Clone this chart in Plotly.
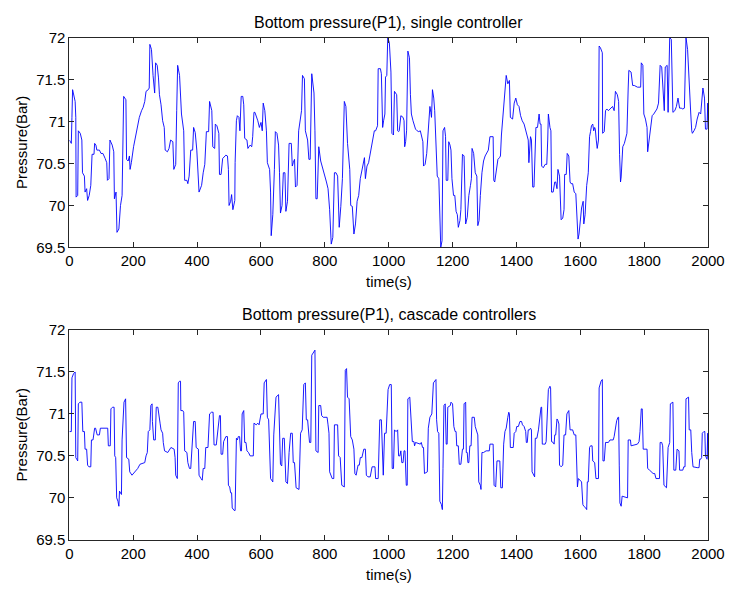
import plotly.graph_objects as go

# ---- data: top panel (single controller) ----
t_single = [0, 6, 8, 10, 18, 20, 21, 26, 28, 34, 39, 41, 47, 49, 54, 57, 62, 67, 71, 77, 79, 83, 86, 94, 99, 105, 112, 117, 119, 124, 127, 134, 139, 141, 146, 149, 155, 160, 165, 168, 170, 177, 179, 184, 188, 190, 194, 201, 209, 219, 226, 231, 236, 240, 247, 250, 252, 257, 262, 267, 270, 275, 279, 282, 287, 292, 297, 300, 307, 312, 317, 324, 327, 333, 336, 339, 345, 351, 358, 361, 368, 371, 375, 380, 386, 389, 394, 399, 406, 414, 419, 424, 429, 436, 439, 446, 449, 455, 457, 462, 468, 470, 475, 480, 490, 495,
            498, 500, 505, 508, 512, 518, 519, 523, 526, 531, 534, 538, 543, 546, 549, 556, 559, 566, 571, 574, 578, 581, 590, 595, 600, 604, 607, 612, 617, 620, 627, 630, 632, 637, 642, 645, 650, 655, 658, 661, 666, 670, 675, 678, 683, 688, 695, 698, 701, 705, 708, 713, 718, 724, 727, 730, 736, 739, 746, 750, 754, 759, 766, 769, 772, 776, 779, 781, 787, 795, 805, 810, 815, 820, 825, 830, 835, 840, 845, 850, 855, 861, 866, 871, 878, 881, 886, 891, 896, 901, 906, 911, 918, 924, 927, 932, 937, 942, 947, 950, 955, 959, 965, 967, 974, 977, 981, 984, 988,
            990, 994, 997, 1002, 1007, 1010, 1015, 1018, 1025, 1028, 1031, 1033, 1038, 1045, 1048, 1050, 1053, 1056, 1060, 1065, 1068, 1071, 1076, 1084, 1089, 1094, 1099, 1104, 1107, 1109, 1114, 1119, 1124, 1129, 1132, 1134, 1137, 1141, 1144, 1147, 1152, 1157, 1160, 1163, 1167, 1170, 1175, 1178, 1180, 1185, 1188, 1192, 1195, 1198, 1203, 1207, 1211, 1215, 1218, 1223, 1226, 1231, 1236, 1241, 1246, 1251, 1256, 1259, 1261, 1266, 1271, 1276, 1279, 1283, 1287, 1292, 1297, 1302, 1312, 1317, 1327, 1329, 1332, 1337, 1342, 1347, 1350, 1353, 1358, 1363, 1368, 1373, 1378, 1381, 1388, 1393, 1398, 1403, 1408, 1413, 1418, 1424, 1429, 1434, 1437, 1439, 1444, 1447, 1451, 1455, 1457, 1461, 1466, 1471, 1474, 1477, 1479, 1484,
            1490, 1495, 1498, 1500, 1505, 1508, 1510, 1515, 1520, 1523, 1527, 1530, 1535, 1538, 1540, 1545, 1549, 1551, 1556, 1559, 1564, 1568, 1571, 1576, 1581, 1586, 1589, 1593, 1596, 1599, 1604, 1609, 1611, 1615, 1620, 1625, 1629, 1632, 1635, 1639, 1642, 1645, 1647, 1650, 1653, 1657, 1659, 1663, 1669, 1670, 1675, 1679, 1683, 1688, 1693, 1701, 1706, 1710, 1716, 1720, 1723, 1726, 1728, 1733, 1738, 1743, 1746, 1750, 1752, 1759, 1764, 1769, 1779, 1789, 1791, 1796, 1799, 1804, 1809, 1811, 1814, 1819, 1825, 1830, 1835, 1840, 1845, 1850, 1855, 1860, 1863, 1866, 1872, 1875, 1880, 1885, 1890, 1896, 1901, 1906, 1911, 1916, 1921, 1926, 1931, 1936, 1939, 1943, 1946, 1949, 1951, 1956, 1961, 1966, 1972, 1977, 1980, 1984, 1989, 1992, 1997, 1999, 2000]
p_single = [70.78, 70.74, 71.05, 71.38, 71.24, 71.05, 70.10, 70.12, 70.89, 70.86, 70.78, 70.39, 70.35, 70.16, 70.20, 70.06, 70.12, 70.24, 70.61, 70.61, 70.74, 70.72, 70.66, 70.66, 70.62, 70.62, 70.56, 70.51, 70.30, 70.32, 70.78, 70.72, 70.64, 70.08, 70.16, 69.68, 69.72, 70.00, 70.12, 70.66, 71.30, 71.26, 70.55, 70.53, 70.59, 70.43, 70.51, 70.70, 70.86, 71.05, 71.13, 71.17, 71.24, 71.36, 71.38, 71.40, 71.92, 71.86, 71.55, 71.34, 71.70, 71.67, 71.52, 71.32, 71.20, 71.01, 70.93, 70.66, 70.64, 70.68, 70.78, 70.76, 70.43, 70.49, 71.13, 71.67, 71.55, 71.09, 70.89, 70.30, 70.30, 70.26, 70.35, 70.66, 70.66, 70.93, 70.87, 70.66, 70.16, 70.24, 70.39, 70.49, 70.88, 70.88, 71.24, 71.13, 70.70, 70.68, 70.97, 70.95, 70.86, 70.37, 70.37, 70.56, 70.60, 70.59,
            70.43, 70.00, 70.05, 70.13, 69.95, 70.06, 70.51, 71.01, 71.07, 71.05, 70.89, 71.30, 71.30, 71.20, 70.80, 70.78, 70.68, 70.72, 70.70, 70.82, 71.11, 71.11, 71.01, 70.93, 70.99, 70.89, 71.22, 71.13, 70.89, 70.51, 70.43, 70.16, 69.64, 69.89, 70.43, 70.88, 70.86, 70.72, 70.39, 69.91, 70.00, 70.39, 70.39, 69.93, 70.05, 70.74, 70.74, 70.47, 70.51, 70.55, 70.22, 70.24, 70.89, 71.09, 71.13, 71.55, 71.51, 70.89, 70.78, 70.55, 70.55, 71.57, 71.34, 70.89, 70.08, 70.08, 70.51, 70.70, 70.53, 70.43, 70.28, 70.20, 69.95, 69.54, 69.62, 70.39, 70.39, 70.35, 69.74, 69.99, 70.32, 71.24, 71.18, 70.74, 70.43, 70.00, 69.99, 69.66, 69.78, 70.05, 70.12, 70.32, 70.47, 70.57, 70.32, 70.47, 70.51, 70.62, 70.70, 70.80, 70.89, 70.89, 70.95, 71.63, 71.63, 71.57, 70.93, 71.01, 71.09,
            71.53, 71.55, 72.00, 71.94, 71.59, 70.86, 70.84, 71.36, 71.32, 70.89, 70.88, 70.89, 71.07, 71.05, 71.01, 70.70, 70.76, 70.89, 71.84, 71.76, 71.32, 71.09, 71.01, 70.91, 70.89, 70.88, 70.89, 70.78, 70.76, 70.47, 70.49, 70.62, 70.89, 71.18, 71.11, 71.05, 71.38, 71.28, 71.13, 70.86, 70.35, 70.32, 69.68, 69.50, 69.58, 70.89, 70.93, 70.82, 70.30, 70.30, 70.76, 70.72, 70.66, 70.32, 70.12, 70.12, 69.93, 69.89, 69.74, 69.82, 69.95, 70.61, 70.59, 69.78, 69.86, 70.12, 70.24, 70.32, 70.68, 70.62, 70.39, 70.35, 69.76, 69.82, 70.12, 70.39, 70.53, 70.59, 70.66, 70.82, 70.82, 70.30, 70.28, 70.45, 70.55, 70.57, 70.59, 70.84, 71.05, 71.32, 71.55, 71.45, 71.49, 71.05, 71.03, 71.22, 71.28, 71.20, 71.18, 71.07, 71.01, 70.97, 70.89, 70.82, 70.78, 70.51, 70.82, 70.78, 70.22, 70.22, 70.43, 70.93, 70.93, 71.09, 70.97, 70.97, 70.47, 70.45,
            70.49, 70.49, 70.78, 71.09, 70.93, 70.89, 70.16, 70.16, 70.28, 70.28, 70.20, 70.43, 70.35, 70.05, 69.83, 69.85, 69.95, 70.37, 70.37, 70.62, 70.59, 70.28, 70.26, 70.26, 70.16, 70.14, 69.85, 69.60, 69.66, 69.82, 69.97, 70.05, 69.78, 69.89, 70.24, 70.39, 70.82, 70.88, 70.95, 70.97, 70.89, 70.93, 70.91, 70.78, 70.68, 70.78, 71.90, 71.88, 71.82, 70.86, 70.88, 71.13, 71.15, 71.13, 71.15, 71.18, 71.13, 71.36, 71.32, 71.24, 70.61, 70.28, 70.34, 70.70, 70.74, 70.82, 70.86, 71.40, 71.61, 71.59, 71.43, 71.43, 71.41, 71.41, 71.70, 71.67, 71.09, 71.03, 70.93, 70.64, 70.74, 70.93, 71.07, 71.09, 71.13, 71.15, 71.22, 71.67, 71.65, 71.20, 71.13, 71.65, 71.67, 71.11, 72.00, 71.98, 71.11, 71.13, 71.18, 71.28, 71.16, 71.16, 71.15, 71.16, 72.00, 71.86, 71.67, 71.32, 71.09, 70.89, 70.86, 70.89, 70.93, 71.03, 71.11, 71.09, 71.28, 71.40, 71.28, 70.91, 70.91, 71.22, 71.01]

# ---- data: bottom panel (cascade controllers) ----
t_cascade = [0, 6, 8, 13, 18, 20, 23, 26, 28, 33, 39, 42, 47, 49, 54, 57, 61, 67, 69, 74, 79, 82, 87, 94, 97, 120, 122, 128, 130, 135, 140, 142, 145, 148, 152, 155, 157, 163, 165, 171, 176, 179, 186, 189, 196, 201, 204, 209, 214, 221, 236, 240, 244, 247, 252, 255, 259, 260, 264, 269, 272, 277, 280, 284, 287, 292, 294, 298, 308, 313, 318, 328, 331, 333, 338, 341, 345, 348, 349, 355, 358, 361, 368, 371, 376, 380, 384, 389, 394, 397, 404, 406, 412, 416, 419, 424, 427, 434, 439, 445, 450, 453, 460, 465, 470, 473, 475, 480, 483, 490, 495,
             498, 502, 505, 508, 510, 516, 519, 521, 523, 526, 529, 533, 536, 539, 541, 546, 549, 553, 556, 561, 566, 576, 578, 585, 590, 594, 600, 607, 610, 617, 620, 624, 627, 630, 637, 640, 647, 655, 661, 665, 668, 673, 678, 683, 688, 693, 698, 701, 705, 710, 719, 724, 729, 734, 739, 742, 746, 752, 756, 759, 769, 772, 779, 781, 787, 790, 795, 807, 810, 813, 815, 823, 828, 830, 840, 843, 848, 853, 861, 864, 868, 871, 876, 881, 886, 891, 894, 898, 904, 908, 911, 916, 922, 927, 930, 935, 942, 948, 957, 959, 967, 972, 977, 979, 983,
             987, 992, 998, 1003, 1008, 1011, 1015, 1018, 1023, 1028, 1031, 1035, 1038, 1041, 1045, 1048, 1051, 1055, 1058, 1060, 1066, 1069, 1074, 1079, 1081, 1084, 1099, 1102, 1106, 1109, 1112, 1121, 1124, 1129, 1135, 1140, 1145, 1148, 1150, 1153, 1157, 1160, 1165, 1168, 1170, 1173, 1177, 1180, 1183, 1185, 1193, 1195, 1200, 1204, 1208, 1211, 1213, 1218, 1221, 1226, 1231, 1234, 1236, 1241, 1243, 1246, 1248, 1251, 1254, 1258, 1261, 1268, 1271, 1277, 1279, 1282, 1287, 1289, 1292, 1297, 1305, 1315, 1317, 1327, 1330, 1335, 1339, 1348, 1351, 1356, 1358, 1360, 1364, 1368, 1373, 1376, 1378, 1381, 1390, 1393, 1398, 1401, 1406, 1411, 1416, 1419, 1424, 1429, 1431, 1434, 1437, 1441, 1444, 1447, 1449, 1454, 1457, 1459, 1464, 1469, 1474, 1477, 1479, 1481,
             1485, 1490, 1493, 1497, 1500, 1505, 1507, 1510, 1515, 1518, 1520, 1523, 1527, 1530, 1533, 1535, 1540, 1545, 1549, 1554, 1558, 1564, 1568, 1576, 1581, 1586, 1589, 1591, 1594, 1604, 1608, 1611, 1617, 1620, 1622, 1625, 1629, 1632, 1637, 1639, 1645, 1649, 1657, 1659, 1665, 1669, 1671, 1675, 1679, 1688, 1693, 1703, 1706, 1710, 1714, 1718, 1720, 1722, 1724, 1728, 1731, 1748, 1750, 1757, 1759, 1779, 1784, 1787, 1791, 1794, 1797, 1809, 1811, 1817, 1828, 1833, 1837, 1848, 1850, 1855, 1858, 1862, 1868, 1870, 1875, 1880, 1882, 1888, 1890, 1893, 1899, 1903, 1909, 1911, 1921, 1924, 1928, 1931, 1936, 1939, 1941, 1946, 1949, 1953, 1966, 1972, 1974, 1977, 1980, 1982, 1987, 1990, 1992, 1995, 1997, 1999, 2000]
p_cascade = [70.79, 70.79, 71.43, 71.48, 71.50, 70.48, 70.46, 70.44, 71.12, 71.14, 71.14, 70.79, 70.79, 70.58, 70.58, 70.39, 70.37, 70.37, 70.69, 70.69, 70.83, 70.83, 70.75, 70.75, 70.83, 70.83, 70.62, 70.62, 71.06, 71.08, 71.08, 70.50, 70.48, 70.00, 69.96, 69.90, 70.08, 70.04, 70.69, 71.14, 71.18, 70.48, 70.46, 70.31, 70.27, 70.29, 70.31, 70.33, 70.35, 70.40, 70.42, 70.50, 70.54, 70.79, 70.81, 71.10, 71.12, 70.91, 70.69, 70.69, 71.08, 71.08, 70.96, 70.89, 70.81, 70.77, 70.66, 70.56, 70.54, 70.58, 70.60, 70.58, 70.48, 70.27, 70.23, 71.37, 71.39, 71.39, 71.04, 71.04, 71.02, 70.56, 70.54, 70.42, 70.35, 70.35, 70.66, 70.91, 70.91, 70.60, 70.58, 70.27, 70.23, 70.21, 70.35, 70.35, 70.60, 70.60, 71.00, 71.02, 71.02, 70.63, 70.63, 70.83, 70.98, 70.98, 70.52, 70.52, 70.67, 70.73, 70.73,
             70.15, 70.13, 70.06, 70.06, 69.88, 69.85, 69.85, 70.27, 70.71, 70.69, 70.73, 70.73, 70.56, 70.56, 71.00, 71.04, 70.66, 70.66, 70.56, 70.54, 70.50, 70.50, 70.89, 70.87, 70.89, 70.87, 71.00, 71.00, 71.37, 71.41, 70.96, 70.93, 70.58, 70.23, 70.19, 70.75, 71.20, 71.23, 70.40, 70.38, 70.71, 70.71, 70.19, 70.17, 70.54, 70.77, 70.77, 70.42, 70.42, 70.12, 70.10, 70.77, 70.81, 71.35, 71.37, 70.93, 70.93, 70.66, 70.66, 71.70, 71.76, 70.56, 70.54, 71.10, 71.10, 70.98, 70.96, 70.96, 70.87, 70.77, 70.31, 70.23, 70.23, 70.87, 70.87, 70.50, 70.48, 70.15, 70.13, 71.52, 71.54, 71.20, 71.18, 70.73, 70.69, 70.58, 70.29, 70.27, 70.39, 70.39, 70.48, 70.48, 70.58, 70.58, 70.27, 70.25, 70.25, 70.37, 70.37, 70.23, 70.23, 70.93, 70.93, 70.77, 70.27,
             70.77, 70.77, 71.29, 71.35, 71.35, 70.35, 70.35, 70.81, 70.79, 70.81, 70.50, 70.50, 70.56, 70.42, 70.42, 70.56, 70.56, 70.15, 70.15, 71.18, 71.20, 70.96, 70.67, 70.67, 70.62, 70.66, 70.64, 70.66, 70.60, 70.60, 70.29, 70.31, 70.83, 70.96, 71.00, 71.37, 71.39, 71.41, 70.93, 70.79, 70.77, 69.96, 69.92, 69.86, 70.35, 71.10, 71.12, 70.64, 70.64, 71.08, 71.10, 71.14, 71.12, 70.85, 70.79, 70.79, 70.62, 70.62, 70.40, 70.40, 70.58, 70.58, 71.12, 71.14, 70.54, 70.54, 70.42, 70.42, 70.62, 70.62, 70.96, 70.96, 70.85, 70.79, 70.75, 70.19, 70.15, 70.10, 70.54, 70.54, 70.56, 70.56, 70.64, 70.64, 70.15, 70.13, 70.44, 70.44, 70.12, 70.12, 70.39, 70.64, 70.79, 70.83, 70.96, 71.02, 71.00, 70.60, 70.60, 70.77, 70.79, 70.85, 70.85, 70.91, 70.91, 70.87, 70.85, 70.79, 70.66, 70.66, 70.81, 70.81, 70.83, 70.81, 70.31, 70.27, 70.25, 70.71, 70.71, 70.81, 71.00, 71.08, 71.08, 70.64,
             70.64, 70.64, 70.67, 70.96, 71.29, 71.33, 71.31, 70.67, 70.66, 70.64, 70.75, 70.75, 70.94, 70.92, 70.88, 70.39, 70.37, 70.39, 70.75, 70.75, 71.00, 71.04, 70.81, 70.81, 70.75, 70.75, 70.19, 70.13, 70.23, 70.19, 69.92, 69.90, 69.88, 69.86, 70.19, 70.19, 70.60, 70.62, 70.62, 70.44, 70.42, 70.23, 70.23, 71.31, 71.39, 71.41, 70.44, 70.44, 70.66, 70.66, 70.69, 70.69, 70.73, 70.85, 70.92, 70.96, 70.96, 70.39, 69.94, 69.90, 70.02, 70.00, 70.69, 70.69, 70.62, 70.64, 70.67, 70.79, 71.06, 71.06, 70.58, 70.58, 70.35, 70.33, 70.29, 70.29, 70.23, 70.23, 70.66, 70.66, 70.62, 70.15, 70.13, 70.12, 70.60, 70.66, 71.12, 71.14, 71.14, 70.33, 70.33, 70.58, 70.56, 70.33, 70.33, 70.37, 70.37, 71.18, 71.20, 71.20, 70.81, 70.81, 70.54, 70.37, 70.36, 70.36, 70.46, 70.46, 70.48, 70.77, 70.79, 70.79, 70.50, 70.46, 70.46, 70.77, 70.48]

x_ticks = list(range(0, 2001, 200))
y_ticks = [69.5, 70, 70.5, 71, 71.5, 72]
y_tick_text = ["69.5", "70", "70.5", "71", "71.5", "72"]
titles = ["Bottom pressure(P1), single controller", "Bottom pressure(P1), cascade controllers"]

W, H = 743, 592
FONT = "Liberation Sans, Arial, Helvetica, sans-serif"
AX = "#262626"
FS = 15

# pixel layout of the two axes boxes
left_px, right_px = 67.3, 724.5
panels = [(29.5, 245.5), (330.5, 546.5)]

fig = go.Figure()
fig.add_trace(go.Scatter(x=t_single, y=p_single, mode="lines",
                         line=dict(color="#0000ff", width=0.9), xaxis="x", yaxis="y",
                         showlegend=False, hoverinfo="skip"))
fig.add_trace(go.Scatter(x=t_cascade, y=p_cascade, mode="lines",
                         line=dict(color="#0000ff", width=0.9), xaxis="x2", yaxis="y2",
                         showlegend=False, hoverinfo="skip"))

xdom = [left_px / W, right_px / W]
axis_common = dict(showgrid=False, zeroline=False, showline=True, linecolor=AX, linewidth=1,
                   mirror="ticks", ticks="inside", ticklen=5, tickcolor=AX, tickwidth=1,
                   tickfont=dict(family=FONT, size=FS, color="black"))

layout = dict(width=W, height=H, margin=dict(l=0, r=0, t=0, b=0),
              paper_bgcolor="white", plot_bgcolor="white", showlegend=False)

annotations = []
for i, (top, bot) in enumerate(panels):
    sfx = "" if i == 0 else "2"
    ydom = [1 - bot / H, 1 - top / H]
    layout["xaxis" + sfx] = dict(axis_common, domain=xdom, range=[0, 2000], tickvals=x_ticks,
                                 anchor="y" + sfx)
    layout["yaxis" + sfx] = dict(axis_common, domain=ydom, range=[69.5, 72], tickvals=y_ticks,
                                 ticktext=y_tick_text, anchor="x" + sfx)
    cx = (left_px + right_px) / 2 / W
    annotations.append(dict(text=titles[i], x=cx, y=1 - (top - 16) / H, xref="paper", yref="paper",
                            showarrow=False, xanchor="center", yanchor="middle",
                            font=dict(family=FONT, size=16, color="black")))
    annotations.append(dict(text="time(s)", x=cx, y=1 - (bot + 24.5) / H, xref="paper", yref="paper",
                            showarrow=False, xanchor="center", yanchor="top",
                            font=dict(family=FONT, size=FS, color="black")))
    annotations.append(dict(text="Pressure(Bar)", x=18 / W, y=1 - (top + bot) / 2 / H,
                            xref="paper", yref="paper", showarrow=False, textangle=-90,
                            xanchor="center", yanchor="middle",
                            font=dict(family=FONT, size=FS, color="black")))
layout["annotations"] = annotations

fig.update_layout(**layout)
fig.write_html("out.html")
